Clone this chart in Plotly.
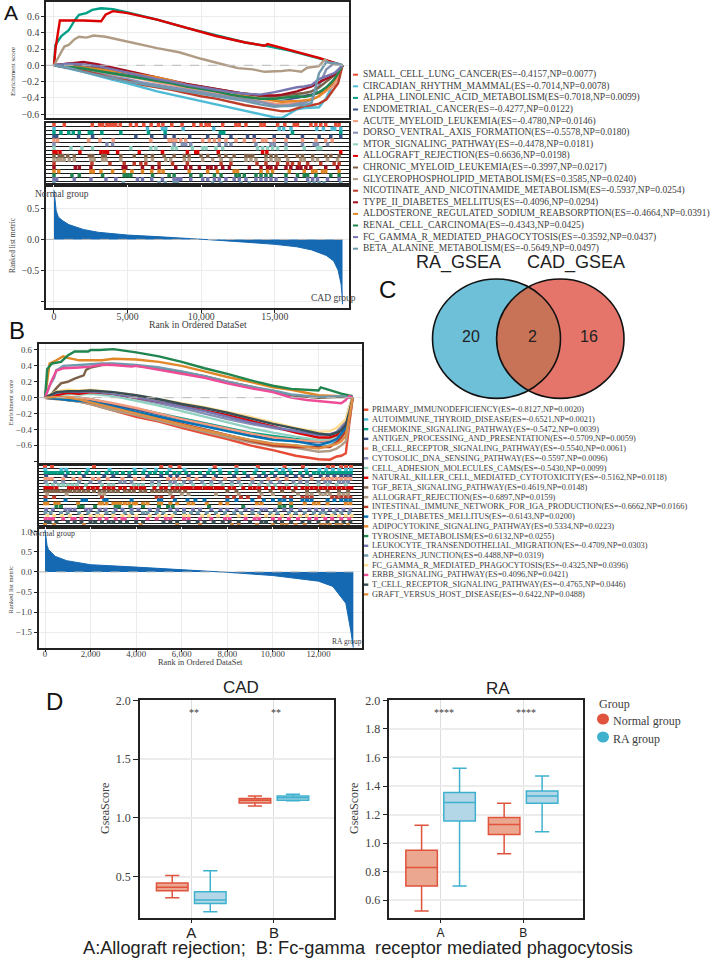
import math
import plotly.graph_objects as go

W, H = 717, 960
SERIF = "Liberation Serif"
SANS = "Liberation Sans"

# ---------- Panel A data ----------
A_NAMES = ["SMALL_CELL_LUNG_CANCER(ES=-0.4157,NP=0.0077)", "CIRCADIAN_RHYTHM_MAMMAL(ES=-0.7014,NP=0.0078)",
           "ALPHA_LINOLENIC_ACID_METABOLISM(ES=0.7018,NP=0.0099)", "ENDOMETRIAL_CANCER(ES=-0.4277,NP=0.0122)",
           "ACUTE_MYELOID_LEUKEMIA(ES=-0.4780,NP=0.0146)", "DORSO_VENTRAL_AXIS_FORMATION(ES=-0.5578,NP=0.0180)",
           "MTOR_SIGNALING_PATHWAY(ES=-0.4478,NP=0.0181)", "ALLOGRAFT_REJECTION(ES=0.6636,NP=0.0198)",
           "CHRONIC_MYELOID_LEUKEMIA(ES=-0.3997,NP=0.0217)", "GLYCEROPHOSPHOLIPID_METABOLISM(ES=0.3585,NP=0.0240)",
           "NICOTINATE_AND_NICOTINAMIDE_METABOLISM(ES=-0.5937,NP=0.0254)", "TYPE_II_DIABETES_MELLITUS(ES=-0.4096,NP=0.0294)",
           "ALDOSTERONE_REGULATED_SODIUM_REABSORPTION(ES=-0.4664,NP=0.0391)", "RENAL_CELL_CARCINOMA(ES=-0.4343,NP=0.0425)",
           "FC_GAMMA_R_MEDIATED_PHAGOCYTOSIS(ES=-0.3592,NP=0.0437)", "BETA_ALANINE_METABOLISM(ES=-0.5649,NP=0.0497)"]
A_COLORS = ["#E64B35", "#4DBBD5", "#00A087", "#3C5488", "#F39B7F", "#8491B4", "#91D1C2", "#DC0000",
            "#7E6148", "#B09C85", "#BC3C29", "#A20F20", "#E18727", "#20854E", "#7876B1", "#6F99AD"]
A_GRID = [0, 1000, 2000, 3000, 4000, 5000, 6000, 7000, 8000, 9000, 10000, 11000, 12000, 13000, 14000, 15000, 15500,
          16000, 16500, 17000, 17500, 18000, 18500, 19000, 19300, 19600]
A_ES = {
    0: [0, -.02, -.05, -.08, -.11, -.13, -.16, -.19, -.22, -.26, -.29, -.32, -.35, -.38, -.40, -.41, -.40, -.39, -.38, -.37, -.36, -.34, -.30, -.22, -.12, 0],
    1: [0, -.04, -.08, -.13, -.18, -.22, -.27, -.32, -.36, -.40, -.44, -.48, -.52, -.56, -.60, -.64, -.645, -.59, -.54, -.525, -.52, -.515, -.40, -.22, -.10, 0],
    3: [0, 0, -.03, -.06, -.09, -.12, -.15, -.19, -.22, -.25, -.28, -.31, -.34, -.37, -.40, -.42, -.42, -.41, -.40, -.38, -.36, -.33, -.30, -.24, -.15, 0],
    4: [0, -.02, -.05, -.08, -.11, -.14, -.17, -.21, -.24, -.28, -.31, -.34, -.37, -.41, -.44, -.47, -.475, -.47, -.46, -.44, -.42, -.38, -.32, -.25, -.14, 0],
    5: [0, -.03, -.07, -.10, -.14, -.17, -.21, -.24, -.27, -.30, -.33, -.36, -.39, -.42, -.45, -.49, -.50, -.49, -.47, -.46, -.42, -.25, -.05, .02, .01, 0],
    6: [0, -.01, -.04, -.07, -.10, -.13, -.16, -.19, -.22, -.25, -.29, -.32, -.35, -.38, -.40, -.42, -.41, -.39, -.37, -.35, -.32, -.28, -.20, -.12, -.05, 0],
    8: [0, .02, 0, -.03, -.06, -.09, -.13, -.17, -.20, -.23, -.26, -.29, -.32, -.35, -.37, -.38, -.37, -.36, -.35, -.34, -.32, -.27, -.20, -.13, -.07, 0],
    10: [0, -.03, -.07, -.11, -.16, -.19, -.24, -.27, -.30, -.34, -.38, -.41, -.45, -.49, -.52, -.55, -.565, -.56, -.53, -.50, -.49, -.47, -.42, -.30, -.22, 0],
    11: [0, .02, .04, .01, -.03, -.07, -.11, -.15, -.19, -.23, -.26, -.29, -.32, -.35, -.37, -.37, -.36, -.34, -.32, -.29, -.26, -.21, -.17, -.12, -.07, 0],
    12: [0, -.01, -.03, -.05, -.07, -.09, -.12, -.15, -.19, -.24, -.28, -.32, -.36, -.38, -.41, -.44, -.45, -.44, -.44, -.43, -.42, -.38, -.30, -.20, -.10, 0],
    13: [0, -.02, -.04, -.07, -.10, -.13, -.16, -.19, -.22, -.26, -.29, -.32, -.36, -.39, -.41, -.41, -.40, -.39, -.38, -.39, -.37, -.33, -.27, -.18, -.10, 0],
    14: [0, .02, .01, -.01, -.05, -.09, -.13, -.17, -.20, -.24, -.27, -.30, -.33, -.35, -.36, -.33, -.31, -.29, -.27, -.26, -.24, -.17, -.13, -.10, -.06, 0],
    15: [0, -.03, -.08, -.12, -.16, -.20, -.23, -.26, -.29, -.32, -.35, -.38, -.41, -.44, -.48, -.51, -.50, -.50, -.49, -.49, -.46, -.10, .04, .03, .02, 0],
}
A_ALPHA_X = [0, 100, 500, 1000, 1400, 1700, 2200, 2600, 3200, 4000, 5000, 7000, 9000, 11000, 13000, 14500, 16000, 18000, 19600]
A_ALPHA_Y = [0, .25, .36, .43, .55, .62, .64, .68, .70, .69, .65, .56, .46, .37, .28, .235, .18, .085, 0]
A_ALLO_X = [0, 100, 400, 1000, 2000, 3200, 3500, 4000, 5000, 7000, 9000, 11000, 13000, 14300, 14500, 16000, 17000, 18000, 18700, 19600]
A_ALLO_Y = [0, .20, .55, .55, .55, .54, .62, .665, .64, .56, .46, .36, .28, .24, .26, .19, .14, .09, .05, 0]
A_GLYC_X = [0, 300, 700, 1000, 1400, 1700, 2200, 2700, 3500, 4500, 5500, 7000, 8500, 10000, 11500, 12500, 13500, 14300, 15500, 16000, 16800, 17200, 18000, 18400, 18700, 19600]
A_GLYC_Y = [0, .10, .23, .25, .32, .35, .34, .365, .35, .31, .27, .21, .16, .08, .01, -.035, -.05, -.08, -.07, -.06, -.08, -.03, -.01, .07, .03, 0]
A_ES_XY = {2: (A_ALPHA_X, A_ALPHA_Y), 7: (A_ALLO_X, A_ALLO_Y), 9: (A_GLYC_X, A_GLYC_Y)}

A_HITS = [
    [0, 700, 2600, 3100, 3300, 3600, 3800, 4000, 4200, 4500, 5200, 5600, 6100, 6600, 7100, 7400, 8000, 8700, 9500, 9990, 10330, 10550, 11460, 12360, 12590, 13040, 14060, 14280, 15190, 15680, 16320, 16540, 17450, 17790, 18120, 18460, 19140, 19370],
    [0, 6350, 7370, 7590, 8770, 10850, 15300, 15600, 16100, 17850, 18300, 18900, 19070, 19480],
    [0, 470, 1000, 1310, 1720, 2400, 2580, 3250, 4540, 6420, 7550, 11300, 11530, 16200, 19480],
    [0, 180, 1670, 2620, 5560, 6640, 7550, 8160, 9220, 10440, 11230, 12020, 13150, 13600, 14960, 15870, 16880, 18010, 18800, 19480],
    [0, 250, 2350, 3120, 4020, 6580, 7820, 8050, 8270, 8610, 8950, 10100, 10550, 10900, 11230, 11680, 12360, 12930, 13600, 14170, 14400, 14960, 15760, 16880, 17790, 18460, 18900],
    [0, 3590, 3980, 8160, 8720, 8950, 9290, 11230, 11680, 12020, 13720, 14740, 14960, 15760, 16880, 17680, 17900, 18580],
    [0, 1150, 1900, 2620, 5220, 6580, 6920, 8050, 8320, 9400, 10100, 10330, 11000, 11460, 13830, 14170, 14510, 14850, 15190, 15760, 17000, 17900, 18120],
    [0, 140, 410, 1760, 3190, 3410, 3640, 4320, 5790, 7370, 9060, 9630, 9760, 11160, 14170, 14460, 19480],
    [0, 360, 590, 930, 1380, 2400, 2620, 3300, 3480, 4540, 5450, 6240, 6690, 7480, 8160, 8860, 9180, 9990, 10440, 11230, 11680, 12240, 13040, 13270, 13490, 14400, 14740, 15080, 15760, 16540, 16880, 17570, 18460, 18800, 19370],
    [0, 250, 470, 700, 1040, 1380, 2510, 2730, 3300, 3530, 4540, 6240, 6690, 7590, 7930, 8860, 9180, 10100, 10780, 11350, 12020, 13040, 13380, 13720, 14400, 14740, 15080, 15300, 15870, 16770, 17000, 17570, 17900, 18580, 19260],
    [0, 2580, 3800, 4770, 5450, 5900, 6240, 7140, 8050, 9060, 11350, 12020, 13790, 14400, 15190, 15870, 16200, 16660, 17230, 18120, 19030, 19370],
    [0, 1450, 1720, 2510, 4700, 4880, 6010, 6690, 7140, 8270, 8950, 9290, 9880, 10440, 10670, 11000, 11460, 11910, 13270, 14060, 14510, 14740, 15080, 15760, 16090, 16540, 16770, 17110, 17450, 18460, 19260],
    [0, 320, 2510, 2670, 3190, 3980, 4770, 5290, 6010, 6640, 7140, 7410, 9180, 10440, 11110, 12240, 12470, 14060, 14510, 14850, 15980, 17000, 17570, 17790, 18240, 18460, 19370],
    [0, 1220, 1720, 3300, 4770, 5000, 5220, 6690, 7820, 8160, 9290, 9990, 10900, 11350, 12360, 12590, 12930, 13720, 14060, 14400, 14740, 15760, 16540, 17000, 17230, 17790, 18800, 19370],
    [0, 180, 1380, 2510, 3530, 4200, 5670, 6010, 6640, 7370, 8160, 8380, 8610, 9290, 10100, 10440, 10900, 11230, 11680, 12240, 12590, 13040, 13720, 14060, 14400, 14740, 15080, 15760, 16430, 17230, 17570, 17900, 18580, 19370],
    [0, 4700, 7140, 7550, 8160, 8380, 10780, 11350, 12700, 13270, 15760, 17340, 17680, 18010, 18350, 19480],
]
A_METRIC_X = [0, 90, 150, 300, 600, 1000, 2000, 3000, 5000, 7000, 9000, 10000, 11000, 13000, 15000, 16500, 17500, 18500, 19000, 19300, 19500, 19560, 19600]
A_METRIC_Y = [.80, .62, .46, .36, .30, .24, .16, .115, .07, .045, .02, .005, -.012, -.045, -.08, -.12, -.17, -.26, -.35, -.50, -.72, -.88, -1.05]

# ---------- Panel B data ----------
B_NAMES = ["PRIMARY_IMMUNODEFICIENCY(ES=-0.8127,NP=0.0020)", "AUTOIMMUNE_THYROID_DISEASE(ES=-0.6521,NP=0.0021)",
           "CHEMOKINE_SIGNALING_PATHWAY(ES=-0.5472,NP=0.0039)", "ANTIGEN_PROCESSING_AND_PRESENTATION(ES=-0.5709,NP=0.0059)",
           "B_CELL_RECEPTOR_SIGNALING_PATHWAY(ES=-0.5540,NP=0.0061)", "CYTOSOLIC_DNA_SENSING_PATHWAY(ES=-0.5597,NP=0.0096)",
           "CELL_ADHESION_MOLECULES_CAMS(ES=-0.5430,NP=0.0099)", "NATURAL_KILLER_CELL_MEDIATED_CYTOTOXICITY(ES=-0.5162,NP=0.0118)",
           "TGF_BETA_SIGNALING_PATHWAY(ES=0.4619,NP=0.0148)", "ALLOGRAFT_REJECTION(ES=-0.6897,NP=0.0159)",
           "INTESTINAL_IMMUNE_NETWORK_FOR_IGA_PRODUCTION(ES=-0.6662,NP=0.0166)", "TYPE_I_DIABETES_MELLITUS(ES=-0.6143,NP=0.0200)",
           "ADIPOCYTOKINE_SIGNALING_PATHWAY(ES=0.5334,NP=0.0223)", "TYROSINE_METABOLISM(ES=0.6132,NP=0.0255)",
           "LEUKOCYTE_TRANSENDOTHELIAL_MIGRATION(ES=-0.4709,NP=0.0303)", "ADHERENS_JUNCTION(ES=0.4488,NP=0.0319)",
           "FC_GAMMA_R_MEDIATED_PHAGOCYTOSIS(ES=-0.4325,NP=0.0396)", "ERBB_SIGNALING_PATHWAY(ES=0.4096,NP=0.0421)",
           "T_CELL_RECEPTOR_SIGNALING_PATHWAY(ES=-0.4765,NP=0.0446)", "GRAFT_VERSUS_HOST_DISEASE(ES=-0.6422,NP=0.0488)"]
B_COLORS = ["#E64B35", "#4DBBD5", "#00A087", "#3C5488", "#F39B7F", "#8491B4", "#91D1C2", "#DC0000", "#7E6148", "#B09C85",
            "#BC3C29", "#0072B5", "#E18727", "#20854E", "#7876B1", "#6F99AD", "#FFDC91", "#EE4C97", "#374E55", "#DF8F44"]
B_GRID = [0, 500, 1000, 1500, 2000, 3000, 4000, 5000, 6000, 7000, 8000, 9000, 10000, 11000, 12000, 12500, 12800, 13000, 13200, 13350, 13500]
B_ES = {
    0: [0, -.01, -.03, -.05, -.08, -.16, -.24, -.30, -.38, -.45, -.52, -.60, -.66, -.73, -.775, -.78, -.74, -.73, -.70, -.34, 0],
    1: [0, -.01, -.03, -.05, -.07, -.14, -.21, -.27, -.34, -.40, -.47, -.53, -.58, -.60, -.63, -.60, -.55, -.50, -.42, -.20, 0],
    2: [0, .01, .01, 0, -.02, -.08, -.14, -.20, -.26, -.32, -.38, -.44, -.48, -.52, -.54, -.52, -.48, -.42, -.34, -.16, 0],
    3: [0, 0, 0, -.02, -.04, -.09, -.15, -.21, -.27, -.33, -.39, -.46, -.51, -.55, -.56, -.54, -.50, -.42, -.34, -.15, 0],
    4: [0, .01, .01, 0, -.02, -.07, -.13, -.20, -.27, -.33, -.39, -.45, -.50, -.53, -.55, -.53, -.49, -.44, -.35, -.17, 0],
    5: [0, .05, .07, .06, .06, .04, -.01, -.07, -.13, -.20, -.27, -.33, -.38, -.43, -.47, -.46, -.43, -.37, -.28, -.12, 0],
    6: [0, .03, .05, .04, .05, .02, -.04, -.10, -.17, -.24, -.31, -.38, -.44, -.49, -.53, -.52, -.48, -.42, -.33, -.15, 0],
    7: [0, .03, .06, .05, .07, .05, 0, -.05, -.10, -.16, -.22, -.29, -.36, -.44, -.50, -.50, -.47, -.40, -.33, -.15, 0],
    9: [0, -.02, -.03, -.05, -.08, -.16, -.22, -.29, -.36, -.43, -.50, -.56, -.61, -.63, -.68, -.67, -.64, -.60, -.55, -.30, 0],
    10: [0, -.01, -.02, -.03, -.06, -.12, -.19, -.26, -.33, -.40, -.47, -.54, -.60, -.62, -.62, -.62, -.56, -.50, -.42, -.28, 0],
    11: [0, -.01, -.03, -.04, -.05, -.11, -.18, -.24, -.30, -.36, -.42, -.48, -.53, -.55, -.60, -.56, -.52, -.45, -.38, -.20, 0],
    14: [0, .06, .08, .07, .08, .05, 0, -.05, -.11, -.17, -.24, -.31, -.37, -.42, -.47, -.46, -.44, -.39, -.30, -.13, 0],
    16: [0, .08, .10, .09, .10, .07, .03, -.02, -.07, -.12, -.18, -.24, -.31, -.38, -.43, -.42, -.38, -.33, -.27, -.12, 0],
    18: [0, .07, .08, .08, .09, .07, .03, -.02, -.08, -.13, -.19, -.26, -.33, -.39, -.45, -.47, -.44, -.41, -.34, -.18, 0],
    19: [0, .01, 0, -.02, -.06, -.13, -.20, -.27, -.34, -.41, -.47, -.53, -.58, -.60, -.64, -.60, -.58, -.55, -.48, -.25, 0],
}
B_TGF_X = [0, 300, 500, 700, 1000, 1300, 1700, 1800, 2000, 2500, 3000, 4000, 5000, 6000, 7000, 8000, 9000, 10000, 10800, 12000, 13000, 13500]
B_TGF_Y = [0, .05, .12, .18, .20, .24, .28, .35, .38, .41, .42, .40, .37, .32, .27, .20, .14, .08, .03, 0, .01, 0]
B_ADIPO_X = [0, 100, 200, 500, 800, 1000, 1500, 2000, 2500, 3000, 4000, 5000, 6000, 7000, 8000, 9000, 10000, 10800, 12000, 13000, 13500]
B_ADIPO_Y = [0, .25, .43, .47, .52, .50, .47, .47, .47, .49, .48, .45, .40, .33, .26, .20, .13, .10, .03, .02, 0]
B_TYRO_X = [0, 100, 300, 700, 1000, 1300, 1900, 2000, 2400, 3000, 4000, 5000, 6000, 7000, 8000, 9000, 10000, 10800, 12000, 12100, 13000, 13500]
B_TYRO_Y = [0, .36, .43, .45, .53, .58, .58, .60, .60, .61, .57, .52, .45, .37, .30, .22, .15, .11, .09, .13, .05, .02]
B_ADHE_X = [0, 200, 400, 500, 600, 800, 1500, 2500, 3000, 4000, 5000, 6000, 7000, 8000, 9000, 10000, 10800, 12000, 13000, 13500]
B_ADHE_Y = [0, .15, .25, .35, .36, .40, .41, .43, .43, .41, .38, .33, .27, .20, .14, .09, .04, .01, .02, 0]
B_ERBB_X = [0, 300, 500, 800, 1500, 2000, 2500, 3000, 3800, 4000, 5000, 6000, 7000, 8000, 9000, 10000, 10800, 11500, 12500, 13000, 13200, 13350, 13500]
B_ERBB_Y = [0, .22, .34, .37, .38, .39, .415, .41, .39, .40, .35, .30, .25, .18, .12, .07, 0, -.03, -.06, -.07, -.03, .02, 0]
B_ES_XY = {8: (B_TGF_X, B_TGF_Y), 12: (B_ADIPO_X, B_ADIPO_Y), 13: (B_TYRO_X, B_TYRO_Y), 15: (B_ADHE_X, B_ADHE_Y), 17: (B_ERBB_X, B_ERBB_Y)}

B_HITS = [
    [0, 310, 2150, 5100, 5500, 5900, 7450, 8400, 9340, 10510, 11320, 12410, 12630, 12990, 13210, 13430],
    [15, 720, 930, 1880, 2830, 3930, 4370, 4880, 5460, 6120, 7230, 7670, 8400, 9270, 10150, 10440, 10730, 11460, 12040, 12340, 12630, 12920, 13210, 13430],
    [30, 180, 320, 470, 640, 760, 1000, 1240, 1500, 1820, 2100, 2350, 2700, 2950, 3150, 3420, 3700, 3960, 4310, 4600, 4820, 5100, 5350, 5680, 5900, 6200, 6480, 6800, 7150, 7400, 7700, 8100, 8400, 8750, 9200, 9600, 9950, 10300, 10500, 10800, 11200, 11500, 11800, 12000, 12200, 12400, 12550, 12700, 12850, 13000, 13150, 13300, 13420],
    [50, 900, 1700, 2600, 3000, 3700, 4500, 5100, 5500, 5800, 6300, 7000, 7500, 8300, 8900, 9400, 9700, 10100, 10600, 11000, 11300, 11650, 12100, 12400, 12700, 13000, 13200, 13400],
    [20, 150, 300, 800, 1250, 1550, 2100, 2350, 2750, 3400, 3950, 4300, 5400, 5650, 5900, 6300, 6650, 7400, 7900, 8500, 9100, 9800, 10200, 10600, 11200, 11700, 12200, 12400, 12600, 12800, 13000, 13200, 13400],
    [30, 450, 800, 1500, 2000, 2400, 3300, 3500, 3800, 4700, 5000, 5500, 5700, 6100, 6400, 6900, 7300, 7700, 8200, 8500, 9100, 9500, 9900, 10300, 10900, 11200, 11500, 12000, 12300, 12500, 12900, 13100, 13300],
    [100, 350, 600, 800, 1000, 1200, 1400, 1800, 2500, 2800, 3000, 3900, 4100, 4300, 4700, 5000, 5500, 5800, 6000, 6500, 7000, 7300, 7800, 8200, 8600, 9000, 9400, 9800, 10100, 10600, 11000, 11500, 12000, 12400, 12800, 13200],
    [20, 150, 300, 500, 1050, 1200, 1400, 1600, 1900, 2100, 2300, 2600, 2800, 3000, 3300, 3500, 3800, 4000, 4200, 4350, 4800, 5100, 5300, 5600, 5800, 6000, 6150, 6300, 6400, 6600, 6700, 6800, 7000, 7150, 7300, 7500, 7650, 7800, 8100, 8300, 8700, 9000, 9200, 9400, 9700, 10000, 10300, 10500, 10700, 11000, 11300, 11500, 11700, 11900, 12100, 12300, 12500, 12700, 12900, 13100, 13300, 13450],
    [10, 150, 300, 450, 600, 800, 950, 1100, 1300, 1500, 1700, 1900, 2150, 2400, 2600, 2800, 3000, 3200, 3500, 3700, 3900, 4200, 4400, 4700, 4900, 5100, 5300, 5500, 5700, 5900, 6150, 8000, 8400, 9400, 9900, 10400, 10900, 11500, 12000, 12400, 12900, 13300],
    [100, 950, 2400, 2600, 5500, 6000, 6300, 7500, 8500, 9500, 10000, 11100, 11500, 11700, 12100, 12300, 12500, 12900, 13100, 13300],
    [20, 400, 2500, 4900, 5100, 5600, 8000, 8300, 8600, 8900, 9400, 10500, 10800, 11300, 11500, 11700, 12600, 12800, 13000, 13200, 13400],
    [20, 900, 1650, 1800, 2600, 2700, 3800, 5000, 5100, 5700, 6250, 6600, 7000, 8000, 8400, 9100, 9600, 10000, 10300, 10500, 10800, 11300, 11500, 11700, 12400, 12700, 13000, 13200, 13400],
    [0, 100, 450, 600, 1450, 2400, 2500, 2700, 3000, 3150, 3300, 3500, 3700, 3900, 4000, 4300, 4500, 5000, 5100, 5500, 5800, 6300, 6500, 7100, 7700, 8000, 9300, 9500, 10300, 10800, 11400, 11800, 12000, 12400, 13200, 13400],
    [500, 700, 1500, 1650, 2200, 3100, 3250, 3750, 4300, 5000, 5400, 5600, 7200, 8700, 10300, 10500, 10800],
    [50, 350, 900, 1100, 1300, 1800, 2000, 2400, 2650, 3100, 3400, 3800, 4100, 4600, 4950, 5500, 5800, 6100, 6500, 6800, 7300, 7700, 8000, 8400, 8800, 9100, 9500, 9700, 10100, 10500, 10800, 11200, 11600, 11900, 12200, 12500, 12800, 13100, 13400],
    [20, 250, 700, 1000, 1500, 1900, 2300, 2700, 3000, 3500, 3800, 4300, 4500, 4900, 5200, 5700, 6100, 6400, 6700, 7100, 7500, 7900, 8300, 8600, 9100, 9400, 9900, 10200, 10700, 11000, 11400, 11800, 12100, 12300, 12700, 13000, 13350],
    [100, 400, 750, 1100, 1600, 2000, 2300, 2500, 3000, 3400, 3700, 4000, 4600, 5000, 5300, 5600, 6100, 6300, 6900, 7200, 7600, 8000, 8500, 8800, 9300, 9700, 10000, 10400, 10800, 11200, 11500, 11900, 12200, 12600, 12900, 13200, 13450],
    [30, 200, 350, 800, 1200, 1300, 1600, 2000, 2400, 2700, 3100, 3400, 3500, 4000, 4500, 4900, 5300, 5500, 6100, 6300, 6800, 7300, 7900, 8100, 8800, 9200, 9400, 10000, 10300, 10700, 11100, 11600, 11900, 12300, 12600, 13000, 13350],
    [40, 200, 500, 1000, 1300, 1600, 2000, 2200, 2500, 2800, 3000, 3300, 3600, 4000, 4300, 5200, 5500, 5800, 6300, 6700, 7000, 7400, 7800, 8100, 8500, 9000, 9500, 9700, 10100, 10400, 10800, 11300, 11600, 12000, 12400, 12800, 13100, 13400],
    [0, 400, 1700, 4200, 5800, 6800, 8200, 8500, 9300, 10000, 10400, 10600, 11000, 11400, 12100, 12300, 12500, 12800, 13000, 13300],
]
B_METRIC_X = [0, 40, 90, 150, 440, 950, 2000, 4000, 6000, 7000, 8000, 10000, 12000, 12630, 13200, 13430, 13530]
B_METRIC_Y = [1.04, .80, .66, .56, .39, .28, .18, .12, .06, .025, -.01, -.09, -.23, -.36, -.78, -1.5, -1.9]

# ---------- Panel C data ----------
VENN_NAMES = ["RA_GSEA", "CAD_GSEA"]
VENN_COUNTS = ["20", "2", "16"]

# ---------- Panel D data ----------
GROUPS = ["Normal group", "RA group"]
CATS = ["A", "B"]
CAD_NORMAL = dict(lowerfence=[.32, 1.10], q1=[.38, 1.125], median=[.41, 1.15], q3=[.445, 1.165], upperfence=[.51, 1.185])
CAD_CASE = dict(lowerfence=[.20, 1.145], q1=[.27, 1.15], median=[.30, 1.17], q3=[.37, 1.185], upperfence=[.55, 1.20])
RA_NORMAL = dict(lowerfence=[.525, .925], q1=[.70, 1.06], median=[.83, 1.13], q3=[.95, 1.18], upperfence=[1.125, 1.28])
RA_CASE = dict(lowerfence=[.70, 1.08], q1=[1.155, 1.28], median=[1.285, 1.33], q3=[1.355, 1.365], upperfence=[1.525, 1.47])

GRID = "#ececec"
FRAME = "#222222"
TXT = "#404040"
BLUE = "#1569B3"


def px(x):
    return x / W


def py(y):
    return 1 - y / H


fig = go.Figure()
ann = []
shapes = []
axes = {}


def text(x, y, s, size, family=SERIF, color=TXT, rot=0, anchor="center"):
    ann.append(dict(x=px(x), y=py(y), xref="paper", yref="paper", text=s, showarrow=False, textangle=rot,
                    xanchor=anchor, yanchor="middle", font=dict(size=size, family=family, color=color)))


def set_axes(n, left, right, top, bottom, xcfg, ycfg):
    sfx = "" if n == 1 else str(n)
    base = dict(showline=True, mirror=True, linecolor=FRAME, linewidth=1.5, zeroline=False, ticks="outside",
                ticklen=3, tickcolor=FRAME, tickwidth=1)
    xa = dict(base, domain=[px(left), px(right)], anchor="y" + sfx)
    xa.update(xcfg)
    ya = dict(base, domain=[py(bottom), py(top)], anchor="x" + sfx)
    ya.update(ycfg)
    axes["xaxis" + sfx] = xa
    axes["yaxis" + sfx] = ya


def ref(n):
    return ("x", "y") if n == 1 else ("x%d" % n, "y%d" % n)


def gsea(n0, names, colors, es, es_xy, grid, hits, mx, my, box, xr, es_r, es_ticks, m_r, m_ticks, m_labels, xticks,
         tick_font, hit_size, hit_w, lw, standoff):
    left, right, t1, b1, t2, b2, t3, b3 = box
    xa1, ya1 = ref(n0)
    xa2, ya2 = ref(n0 + 1)
    xa3, ya3 = ref(n0 + 2)
    nrows = len(names)
    for i, nm in enumerate(names):
        x, y = es_xy[i] if i in es_xy else (grid, es[i])
        fig.add_trace(go.Scatter(x=x, y=y, mode="lines", name=nm, showlegend=False, xaxis=xa1, yaxis=ya1,
                                 line=dict(color=colors[i], width=lw)))
    for i, h in enumerate(hits):
        fig.add_trace(go.Scatter(x=h, y=[i] * len(h), mode="markers", showlegend=False, xaxis=xa2, yaxis=ya2,
                                 marker=dict(symbol="line-ns", size=hit_size, line=dict(color=colors[i], width=hit_w))))
    fig.add_trace(go.Scatter(x=mx, y=my, mode="lines", fill="tozeroy", fillcolor=BLUE, showlegend=False,
                             line=dict(color=BLUE, width=1), xaxis=xa3, yaxis=ya3))
    tf = dict(family=SERIF, size=tick_font, color=TXT)
    xc = dict(range=xr, tickvals=xticks, gridcolor=GRID, gridwidth=1, showgrid=True)
    set_axes(n0, left, right, t1, b1, dict(xc, showticklabels=False, ticks=""),
             dict(range=es_r, tickvals=es_ticks, ticktext=[("%.1f" % v).replace("-", "\u2212") if abs(v) < .75 else "" for v in es_ticks],
                  tickfont=tf, gridcolor=GRID, showgrid=True))
    set_axes(n0 + 1, left, right, t2, b2, dict(range=xr, showgrid=False, showticklabels=False, ticks=""),
             dict(range=[nrows - .5, -.5], tickvals=[i + .5 for i in range(-1, nrows)], showticklabels=False, ticks="",
                  showgrid=True, gridcolor="#1a1a1a", gridwidth=1.2))
    set_axes(n0 + 2, left, right, t3, b3,
             dict(xc, showticklabels=True, tickformat=",d", tickfont=tf, ticklabelstandoff=standoff),
             dict(range=m_r, tickvals=m_ticks, ticktext=m_labels, tickfont=tf, gridcolor=GRID, showgrid=True))
    for xr_, yr_ in ((xa1, ya1), (xa3, ya3)):
        shapes.append(dict(type="line", xref=xr_ + " domain", yref=yr_, x0=0, x1=1, y0=0, y1=0, layer="above",
                           line=dict(color="#b9b9b9", width=1, dash="dash")))


gsea(1, A_NAMES, A_COLORS, A_ES, A_ES_XY, A_GRID, A_HITS, A_METRIC_X, A_METRIC_Y,
     (46, 349, 2, 118, 123, 185, 185, 308), [-543, 20040], [-.647, .777], [-.6, -.4, -.2, 0, .2, .4, .6],
     [-1.11, .88], [-1, -.5, 0, .5], ["", "\u22120.5", "0.0", "0.5"], [0, 5000, 10000, 15000], 9.8, 3, 3.5, 2.4, -5)
gsea(4, B_NAMES, B_COLORS, B_ES, B_ES_XY, B_GRID, B_HITS, B_METRIC_X, B_METRIC_Y,
     (38.5, 362, 344, 464, 465, 526.5, 526.5, 647.5), [-285, 13910], [-.834, .675], [-.8, -.6, -.4, -.2, 0, .2, .4, .6],
     [-1.88, 1.13], [-1.5, -1, -.5, 0, .5, 1], ["\u22121.5", "\u22121.0", "\u22120.5", "0.0", "0.5", "1.0"],
     [0, 2000, 4000, 6000, 8000, 10000, 12000], 8.8, 2.5, 4, 2.4, -6)

# gene-set keys and names
for i, nm in enumerate(A_NAMES):
    y = 74.7 + i * 11.6
    shapes.append(dict(type="rect", xref="paper", yref="paper", x0=px(353), x1=px(358), y0=py(y + 1), y1=py(y - 1),
                       fillcolor=A_COLORS[i], line=dict(width=0)))
    text(360.5, y, nm, 9.5, anchor="left")
for i, nm in enumerate(B_NAMES):
    y = 409.7 + i * 9.72
    shapes.append(dict(type="rect", xref="paper", yref="paper", x0=px(364), x1=px(368.3), y0=py(y + 1.2), y1=py(y - 1.2),
                       fillcolor=B_COLORS[i], line=dict(width=0)))
    text(369.5, y, nm, 8.3, anchor="left")

# panel texts A, B
text(13, 71, "Enrichment score", 7, rot=-90)
text(13, 245, "Ranked list metric", 7.5, rot=-90)
text(62, 194, "Normal group", 9.5)
text(333, 298, "CAD group", 9.5)
text(197.7, 324.5, "Rank in Ordered DataSet", 9.7)
text(9.5, 403, "Enrichment score", 6.5, rot=-90)
text(9.5, 590, "Ranked list metric", 6.5, rot=-90)
text(52.7, 533.7, "Normal group", 8)
text(347, 641, "RA group", 7.5)
text(200, 662.5, "Rank in Ordered DataSet", 8.4)

# panel letters
text(11, 12.5, "A", 21, SANS, "#111111")
text(17, 331, "B", 24, SANS, "#111111")
text(387, 290, "C", 24, SANS, "#111111")
text(54, 701, "D", 24, SANS, "#111111")

# Venn: two filled discs, their overlap, then the outlines
V_LEFT = (496.5, 338.7, 64.0, 59.7)
V_RIGHT = (560.3, 338.7, 63.7, 59.7)
for (cx, cy, rx, ry), col in ((V_LEFT, "#6EC0D9"), (V_RIGHT, "#E5756A")):
    shapes.append(dict(type="circle", xref="paper", yref="paper", x0=px(cx - rx), x1=px(cx + rx), y0=py(cy + ry), y1=py(cy - ry),
                       fillcolor=col, line=dict(width=0)))
cxl, cyl, rxl, ryl = V_LEFT
cxr, cyr, rxr, ryr = V_RIGHT
xm = (cxl + cxr) / 2
tl = math.acos((xm - cxl) / rxl)
tr = math.acos((cxr - xm) / rxr)
lens = []
for k in range(41):
    t = -tl + 2 * tl * k / 40
    lens.append((cxl + rxl * math.cos(t), cyl + ryl * math.sin(t)))
for k in range(41):
    t = tr - 2 * tr * k / 40
    lens.append((cxr - rxr * math.cos(t), cyr + ryr * math.sin(t)))
path = "M " + " L ".join("%.5f,%.5f" % (px(a), py(b)) for a, b in lens) + " Z"
shapes.append(dict(type="path", xref="paper", yref="paper", path=path, fillcolor="#C87358", line=dict(width=0)))
for cx, cy, rx, ry in (V_LEFT, V_RIGHT):
    shapes.append(dict(type="circle", xref="paper", yref="paper", x0=px(cx - rx), x1=px(cx + rx), y0=py(cy + ry), y1=py(cy - ry),
                       line=dict(color="#111111", width=1.6)))
text(458, 262.5, VENN_NAMES[0], 18, SANS, "#222222")
text(576, 262.5, VENN_NAMES[1], 18, SANS, "#222222")
text(470.7, 336, VENN_COUNTS[0], 16, SANS, "#222222")
text(532, 336, VENN_COUNTS[1], 16, SANS, "#222222")
text(589, 336, VENN_COUNTS[2], 16, SANS, "#222222")

# Panel D
RED_L, RED_F, BLU_L, BLU_F = "#E0533D", "#EBA78F", "#3FB1CE", "#B3D7E6"
for n, data, col_l, col_f, grp, og, ag in ((7, CAD_NORMAL, RED_L, RED_F, GROUPS[0], "n", "cad"), (7, CAD_CASE, BLU_L, BLU_F, GROUPS[1], "c", "cad"),
                                           (8, RA_NORMAL, RED_L, RED_F, GROUPS[0], "n", "ra"), (8, RA_CASE, BLU_L, BLU_F, GROUPS[1], "c", "ra")):
    xa, ya = ref(n)
    fig.add_trace(go.Box(x=CATS, name=grp, showlegend=False, xaxis=xa, yaxis=ya, boxpoints=False, whiskerwidth=.45,
                         offsetgroup=og, alignmentgroup=ag,
                         line=dict(color=col_l, width=1.5), fillcolor=col_f, **data))

tfd = dict(family=SERIF, size=12, color=TXT)
set_axes(7, 140, 334.3, 700.3, 917.7,
         dict(type="category", range=[-.62, 1.73], tickfont=dict(family=SANS, size=15, color="#222222"), gridcolor="#dddddd", showgrid=True, ticklen=4, ticklabelstandoff=-3),
         dict(range=[.15, 2.0], tickvals=[.5, 1, 1.5, 2], ticktext=["0.5", "1.0", "1.5", "2.0"], tickfont=tfd, gridcolor=GRID, gridwidth=1.5, showgrid=True, ticklen=5))
set_axes(8, 389.4, 583.4, 700.3, 917.7,
         dict(type="category", range=[-.62, 1.73], tickfont=dict(family=SANS, size=12, color="#222222"), gridcolor="#dddddd", showgrid=True, ticklen=4, ticklabelstandoff=-1),
         dict(range=[.478, 2.0], tickvals=[.6, .8, 1, 1.2, 1.4, 1.6, 1.8, 2], ticktext=["0.6", "0.8", "1.0", "1.2", "1.4", "1.6", "1.8", "2.0"],
              tickfont=tfd, gridcolor=GRID, gridwidth=1.5, showgrid=True, ticklen=5))
text(241, 687, "CAD", 17, SANS, "#222222")
text(498, 688, "RA", 17, SANS, "#222222")
text(105, 809, "GseaScore", 12, rot=-90)
text(354, 809, "GseaScore", 12, rot=-90)
for xs, s in ((194, "**"), (276, "**"), (443.7, "****"), (526, "****")):
    text(xs, 712, s, 10)
text(597, 704, "Group", 12, anchor="left")
for yl, c, g in ((719, RED_L, GROUPS[0]), (737, BLU_L, GROUPS[1])):
    shapes.append(dict(type="circle", xref="paper", yref="paper", x0=px(597), x1=px(609), y0=py(yl + 5.5), y1=py(yl - 5.5),
                       fillcolor=c, line=dict(width=0)))
    text(611, yl + 2, g, 12, anchor="left")
text(357.5, 948, "A:Allograft rejection;  B: Fc-gamma  receptor mediated phagocytosis", 18.2, SANS, "#222222")

fig.update_layout(width=W, height=H, margin=dict(l=0, r=0, t=0, b=0, autoexpand=False), paper_bgcolor="white", plot_bgcolor="white",
                  showlegend=False, boxmode="group", boxgap=.08, boxgroupgap=.17, annotations=ann, shapes=shapes,
                  font=dict(family=SERIF), **axes)
fig.write_html("out.html", config=dict(displayModeBar=False), post_script="document.body.style.margin='0';")
